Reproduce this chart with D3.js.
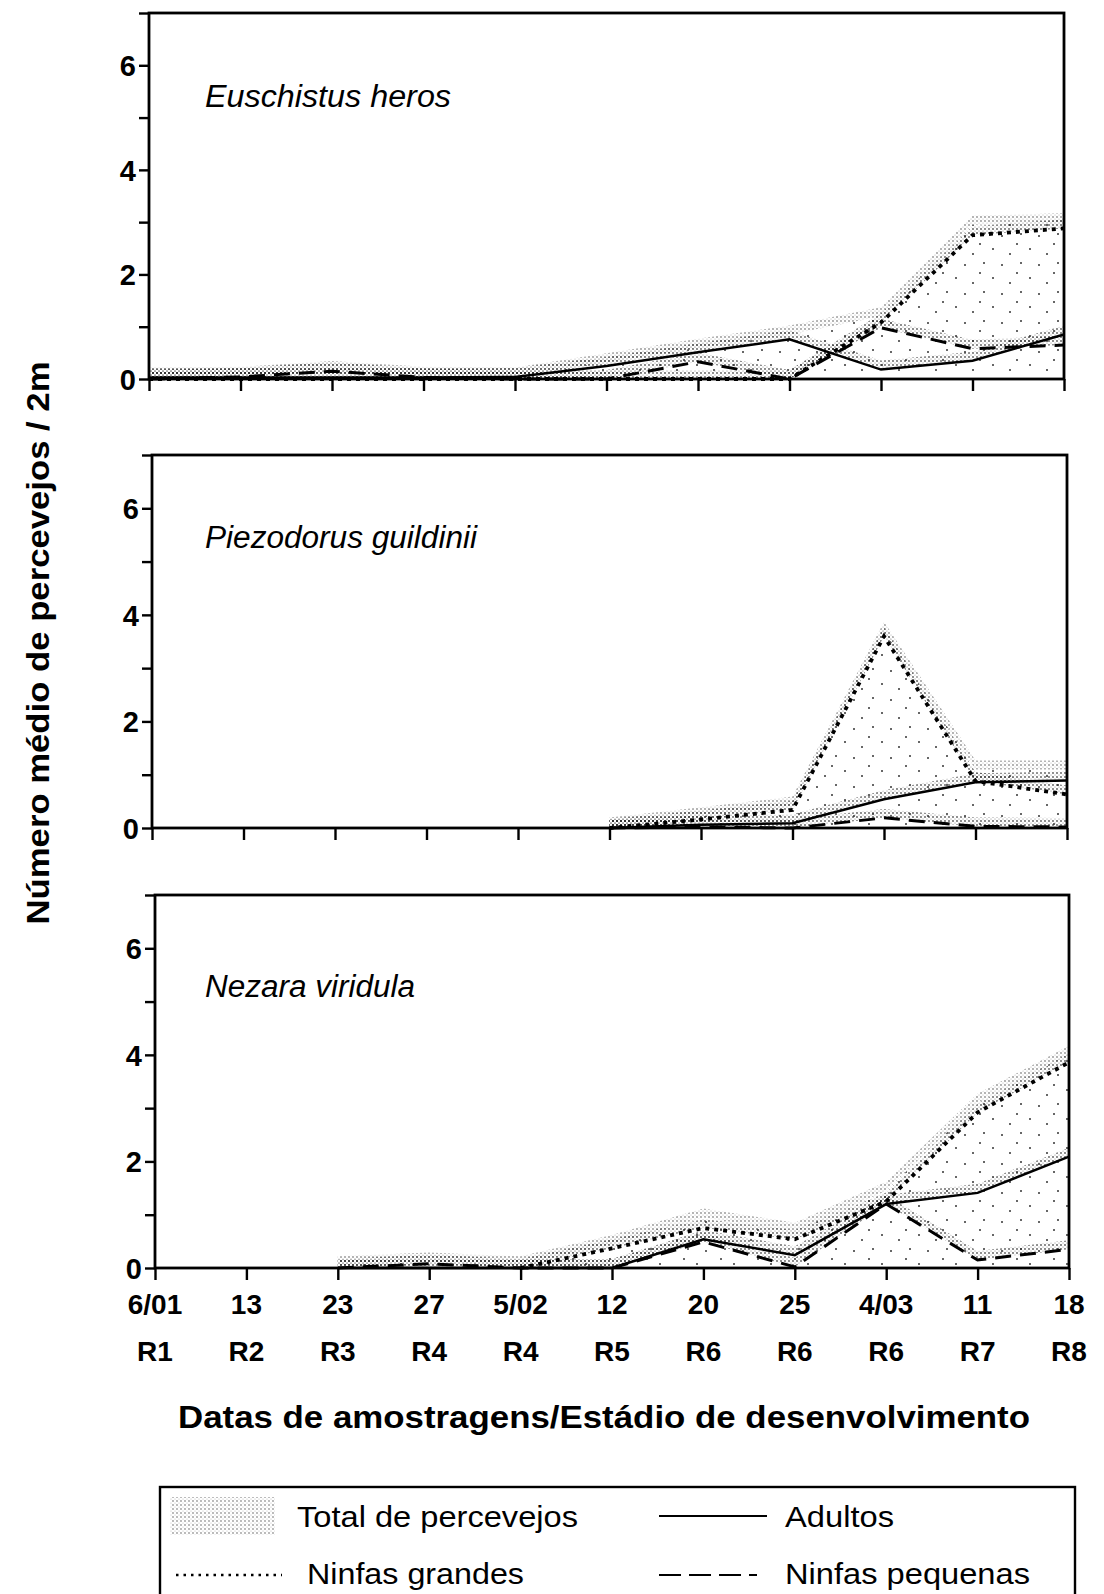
<!DOCTYPE html>
<html>
<head>
<meta charset="utf-8">
<script src="https://cdn.jsdelivr.net/npm/d3@7"></script>
<style>
    body { margin: 0; background: #fff; }
    svg { display: block; }
    text { font-family: "Liberation Sans", Arial, sans-serif; fill: #000; }
</style>
</head>
<body>
<svg id="chart" width="1104" height="1594"></svg>
<script>
// sampling dates and soybean stage, one per tick
const dates = ['6/01', '13', '23', '27', '5/02', '12', '20', '25', '4/03', '11', '18'];
const stages = ['R1', 'R2', 'R3', 'R4', 'R4', 'R5', 'R6', 'R6', 'R6', 'R7', 'R8'];
const species = ['Euschistus heros', 'Piezodorus guildinii', 'Nezara viridula'];
const yTickLabels = [0, 2, 4, 6];

// Euschistus heros
const eusTotal  = [0.05, 0.06, 0.17, 0.06, 0.05, 0.32, 0.6, 0.85, 1.2, 2.95, 3.0];
const eusAdults = [0.03, 0.03, 0.03, 0.03, 0.04, 0.25, 0.51, 0.76, 0.18, 0.35, 0.85];
const eusLarge  = [0, 0, 0, 0, 0, 0, 0, 0, 1.08, 2.75, 2.88];
const eusSmall  = [0, 0.04, 0.15, 0.03, 0, 0, 0.33, 0, 0.98, 0.58, 0.65];

// Piezodorus guildinii (nothing sampled before 12/02)
const pieTotal  = [null, null, null, null, null, 0.03, 0.22, 0.42, 3.7, 1.1, 1.1];
const pieAdults = [null, null, null, null, null, 0, 0.06, 0.09, 0.54, 0.86, 0.89];
const pieLarge  = [null, null, null, null, null, 0, 0.16, 0.34, 3.6, 0.88, 0.63];
const pieSmall  = [null, null, null, null, null, 0, 0.02, 0, 0.19, 0.03, 0.02];

// Nezara viridula
const nezTotal  = [null, null, 0.05, 0.12, 0.05, 0.45, 0.95, 0.68, 1.45, 3.1, 4.0];
const nezAdults = [null, null, 0, 0, 0, 0, 0.54, 0.24, 1.2, 1.41, 2.09];
const nezLarge  = [null, null, null, null, 0, 0.37, 0.75, 0.54, 1.25, 2.92, 3.86];
const nezSmall  = [null, null, 0, 0.08, 0, 0, 0.49, 0.02, 1.2, 0.15, 0.35];

const panelData = [
    { total: eusTotal, adults: eusAdults, large: eusLarge, small: eusSmall },
    { total: pieTotal, adults: pieAdults, large: pieLarge, small: pieSmall },
    { total: nezTotal, adults: nezAdults, large: nezLarge, small: nezSmall }
];

// the scan is slightly skewed, so each panel sits a bit differently
const panels = [
    { left: 149, right: 1064, top: 13, bottom: 379 },
    { left: 152, right: 1067, top: 455, bottom: 828 },
    { left: 155, right: 1069, top: 895, bottom: 1268 }
];

const lineStyles = {
    adults: { width: 2.5, dash: null },
    large: { width: 3.8, dash: '4,5' },
    small: { width: 3, dash: '16,9' }
};

const svg = d3.select('#chart');
const defs = svg.append('defs');

// sparse stipple for the total area
const sparse = defs.append('pattern')
    .attr('id', 'sparse')
    .attr('patternUnits', 'userSpaceOnUse')
    .attr('width', 37).attr('height', 29);
[[3, 4], [22, 2], [31, 17], [11, 22], [18, 12]].forEach(p => {
    sparse.append('circle').attr('cx', p[0]).attr('cy', p[1]).attr('r', 1).attr('fill', '#333');
});

// grainy halftone band that hugs the lines
const dense = defs.append('pattern')
    .attr('id', 'dense')
    .attr('patternUnits', 'userSpaceOnUse')
    .attr('width', 4).attr('height', 4);
dense.append('circle').attr('cx', 1).attr('cy', 1).attr('r', 0.9).attr('fill', '#222');
dense.append('circle').attr('cx', 3).attr('cy', 3).attr('r', 0.55).attr('fill', '#555');

function stretchedText(g, str, x, y, size, len, opts) {
    opts = opts || {};
    return g.append('text')
        .attr('x', x).attr('y', y)
        .attr('font-size', size)
        .attr('font-weight', opts.weight || 'normal')
        .attr('font-style', opts.style || 'normal')
        .attr('text-anchor', opts.anchor || 'start')
        .attr('textLength', len)
        .attr('lengthAdjust', 'spacingAndGlyphs')
        .text(str);
}

panels.forEach((p, pi) => {
    const data = panelData[pi];
    const x = d3.scalePoint().domain(d3.range(dates.length)).range([p.left, p.right]);
    const y = d3.scaleLinear().domain([0, 7]).range([p.bottom, p.top]);
    const g = svg.append('g');

    // total area, sparse dots
    const area = d3.area()
        .defined(d => d != null)
        .x((d, i) => x(i))
        .y0(y(0))
        .y1(d => y(d));
    g.append('path')
        .datum(data.total)
        .attr('d', area)
        .attr('fill', 'url(#sparse)');

    // halftone shadow just above each line
    ['large', 'adults', 'small', 'total'].forEach(key => {
        const band = d3.area()
            .defined(d => d != null)
            .x((d, i) => x(i))
            .y0(d => y(d))
            .y1(d => y(d) - 9);
        g.append('path')
            .datum(data[key])
            .attr('d', band)
            .attr('fill', 'url(#dense)')
            .attr('opacity', key === 'total' ? 0.5 : 0.75);
    });

    const line = d3.line()
        .defined(d => d != null)
        .x((d, i) => x(i))
        .y(d => y(d));

    ['adults', 'large', 'small'].forEach(key => {
        const st = lineStyles[key];
        g.append('path')
            .datum(data[key])
            .attr('d', line)
            .attr('fill', 'none')
            .attr('stroke', '#000')
            .attr('stroke-width', st.width)
            .attr('stroke-dasharray', st.dash);
    });

    // frame
    g.append('rect')
        .attr('x', p.left).attr('y', p.top)
        .attr('width', p.right - p.left).attr('height', p.bottom - p.top)
        .attr('fill', 'none')
        .attr('stroke', '#000')
        .attr('stroke-width', 2.8);

    const yAxis = g.append('g')
        .attr('transform', `translate(${p.left},0)`)
        .call(d3.axisLeft(y)
            .tickValues(d3.range(0, 8))
            .tickSize(10)
            .tickPadding(3)
            .tickFormat(d => yTickLabels.includes(d) ? d : ''));
    yAxis.select('.domain').remove();
    yAxis.selectAll('line').attr('stroke-width', 2.4);
    yAxis.selectAll('text')
        .attr('font-size', 29)
        .attr('font-weight', 'bold')
        .attr('font-family', '"Liberation Sans", Arial, sans-serif')
        .attr('dy', '0.36em');

    const xAxis = g.append('g')
        .attr('transform', `translate(0,${p.bottom})`)
        .call(d3.axisBottom(x).tickSize(12).tickFormat(''));
    xAxis.select('.domain').remove();
    xAxis.selectAll('line').attr('stroke-width', 2.4);

    // species name
    const nameLen = [246, 272, 210][pi];
    stretchedText(g, species[pi], 205, [107, 548, 997][pi], 31, nameLen, { style: 'italic' });

    // dates and stages only under the last panel
    if (pi === panels.length - 1) {
        dates.forEach((d, i) => {
            g.append('text')
                .attr('x', x(i)).attr('y', 1314)
                .attr('text-anchor', 'middle')
                .attr('font-size', 28).attr('font-weight', 'bold')
                .text(d);
        });
        stages.forEach((s, i) => {
            g.append('text')
                .attr('x', x(i)).attr('y', 1361)
                .attr('text-anchor', 'middle')
                .attr('font-size', 28).attr('font-weight', 'bold')
                .text(s);
        });
    }
});

// axis titles
stretchedText(svg, 'Datas de amostragens/Estádio de desenvolvimento', 604, 1428, 32, 852,
    { weight: 'bold', anchor: 'middle' });
svg.append('text')
    .attr('transform', 'translate(49,643) rotate(-90)')
    .attr('font-size', 31)
    .attr('font-weight', 'bold')
    .attr('text-anchor', 'middle')
    .attr('textLength', 563)
    .attr('lengthAdjust', 'spacingAndGlyphs')
    .text('Número médio de percevejos / 2m');

// legend
const lg = svg.append('g');
lg.append('rect')
    .attr('x', 160).attr('y', 1487)
    .attr('width', 915).attr('height', 140)
    .attr('fill', 'none')
    .attr('stroke', '#000')
    .attr('stroke-width', 2.4);

lg.append('rect')
    .attr('x', 170).attr('y', 1497)
    .attr('width', 105).attr('height', 38)
    .attr('fill', 'url(#dense)')
    .attr('opacity', 0.45);
stretchedText(lg, 'Total de percevejos', 297, 1527, 30, 281);

lg.append('line')
    .attr('x1', 659).attr('x2', 767)
    .attr('y1', 1516).attr('y2', 1516)
    .attr('stroke', '#000').attr('stroke-width', 2);
stretchedText(lg, 'Adultos', 785, 1527, 30, 109);

lg.append('line')
    .attr('x1', 176).attr('x2', 282)
    .attr('y1', 1575).attr('y2', 1575)
    .attr('stroke', '#000').attr('stroke-width', 2.4)
    .attr('stroke-dasharray', '2.5,5');
stretchedText(lg, 'Ninfas grandes', 307, 1584, 30, 217);

lg.append('line')
    .attr('x1', 659).attr('x2', 767)
    .attr('y1', 1575).attr('y2', 1575)
    .attr('stroke', '#000').attr('stroke-width', 2)
    .attr('stroke-dasharray', '22,8,22,8,22,8,8,100');
stretchedText(lg, 'Ninfas pequenas', 785, 1584, 30, 245);
</script>
</body>
</html>
